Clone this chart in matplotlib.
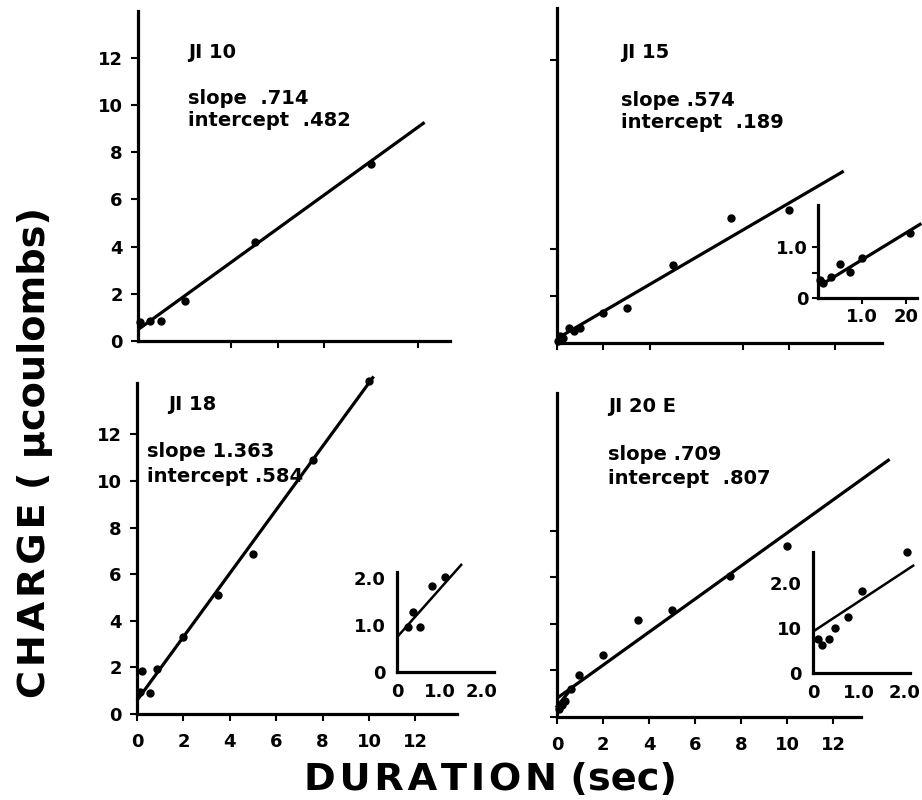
import matplotlib
matplotlib.use("Agg")
import matplotlib.pyplot as plt
import numpy as np

plt.rcParams['font.family'] = ['DejaVu Sans']
plt.rcParams['font.weight'] = 'bold'

W, H = 922, 800

# ---------------- data ----------------
# JI 10
p1_x = [0.1, 0.5, 1.0, 2.0, 5.0, 10.0]
p1_y = [0.8, 0.85, 0.85, 1.7, 4.2, 7.5]
p1_slope, p1_icpt, p1_xend = 0.714, 0.482, 12.3

# JI 15
p2_x = [0.05, 0.15, 0.25, 0.5, 0.75, 1.0, 2.0, 3.0, 5.0, 7.5, 10.0]
p2_y = [0.1, 0.3, 0.2, 0.62, 0.5, 0.62, 1.26, 1.5, 3.3, 5.3, 5.65]
p2_slope, p2_icpt, p2_xend = 0.574, 0.189, 12.36
p2i_x = [0.05, 0.12, 0.3, 0.5, 0.73, 1.0, 2.09]
p2i_y = [0.35, 0.3, 0.42, 0.68, 0.51, 0.79, 1.28]
p2i_line_x = [0.05, 2.35]
p2i_line_y = [0.25, 1.47]

# JI 18
p3_x = [0.13, 0.2, 0.56, 0.85, 2.0, 3.5, 5.0, 7.6, 10.0]
p3_y = [0.93, 1.86, 0.89, 1.95, 3.3, 5.1, 6.85, 10.9, 14.3]
p3_slope, p3_icpt, p3_xend = 1.363, 0.584, 10.2
p3i_x = [0.27, 0.38, 0.54, 0.83, 1.13]
p3i_y = [0.96, 1.28, 0.96, 1.82, 2.02]
p3i_line_x = [0.0, 1.53]
p3i_line_y = [0.74, 2.3]

# JI 20 E
p4_x = [0.1, 0.2, 0.35, 0.6, 0.95, 2.0, 3.5, 5.0, 7.5, 10.0]
p4_y = [0.35, 0.5, 0.7, 1.2, 1.8, 2.65, 4.15, 4.6, 6.05, 7.35]
p4_slope, p4_icpt, p4_xend = 0.709, 0.807, 14.46
p4_aux_x = [0.0, 0.65]
p4_aux_y = [0.45, 1.25]
p4i_x = [0.1, 0.2, 0.35, 0.48, 0.77, 1.06, 2.04]
p4i_y = [0.76, 0.63, 0.76, 1.0, 1.24, 1.83, 2.69]
p4i_line_x = [0.0, 2.2]
p4i_line_y = [0.92, 2.4]

main_ticks = [0, 2, 4, 6, 8, 10, 12]
main_labels = ['0', '2', '4', '6', '8', '10', '12']

fig = plt.figure(figsize=(9.22, 8), dpi=100)

LW = 2.3


def px_axes(ox, oy, sx, sy, xmax, ymax):
    ax = fig.add_axes([ox / W, 1 - oy / H, sx * xmax / W, sy * ymax / H])
    ax.set_xlim(0, xmax)
    ax.set_ylim(0, ymax)
    ax.patch.set_alpha(0)
    for s in ['top', 'right']:
        ax.spines[s].set_visible(False)
    for s in ['left', 'bottom']:
        ax.spines[s].set_linewidth(LW)
    ax.tick_params(width=1.5, length=5, labelsize=13, pad=6)
    return ax


def draw(ax, x, y, lx, ly, lw=LW, ms=5):
    ax.plot(lx, ly, color='black', lw=lw, solid_capstyle='butt', clip_on=False)
    ax.plot(x, y, 'o', color='black', ms=ms, clip_on=False)


def fit_line(slope, icpt, xend):
    xs = np.array([0.0, xend])
    return xs, slope * xs + icpt


txt = dict(fontsize=14, fontweight='bold', ha='left', va='center')

# ---- Panel JI 10 ----
ax1 = px_axes(138, 341, 23.3, 23.6, 13.4, 14.0)
ax1.set_yticks(main_ticks[:7])
ax1.set_yticklabels(main_labels[:7])
ax1.set_xticks([4, 6, 8, 12])
ax1.set_xticklabels([])
lx, ly = fit_line(p1_slope, p1_icpt, p1_xend)
draw(ax1, p1_x, p1_y, lx, ly)
fig.text(188 / W, 1 - 52 / H, 'JI 10', **txt)
fig.text(188 / W, 1 - 98 / H, 'slope  .714', **txt)
fig.text(188 / W, 1 - 120 / H, 'intercept  .482', **txt)

# ---- Panel JI 15 ----
ax2 = px_axes(557, 343, 23.2, 23.6, 14.0, 14.2)
ax2.set_yticks([2, 4, 12])
ax2.set_yticklabels([])
ax2.set_xticks([0, 2, 4, 8, 10, 12])
ax2.set_xticklabels([])
lx, ly = fit_line(p2_slope, p2_icpt, p2_xend)
draw(ax2, p2_x, p2_y, lx, ly)
fig.text(621 / W, 1 - 53 / H, 'JI 15', **txt)
fig.text(621 / W, 1 - 100 / H, 'slope .574', **txt)
fig.text(621 / W, 1 - 123 / H, 'intercept  .189', **txt)

ax2i = px_axes(818, 298, 44, 50.7, 2.25, 1.83)
ax2i.set_yticks([0, 0.5, 1.0])
ax2i.set_yticklabels(['0', '', '1.0'])
ax2i.set_xticks([1.0, 2.0])
ax2i.set_xticklabels(['1.0', '20'])
ax2i.tick_params(length=4, pad=3)
draw(ax2i, p2i_x, p2i_y, p2i_line_x, p2i_line_y)

# ---- Panel JI 18 ----
ax3 = px_axes(137, 714, 23.2, 23.3, 13.8, 14.2)
ax3.set_yticks(main_ticks)
ax3.set_yticklabels(main_labels)
ax3.set_xticks(main_ticks)
ax3.set_xticklabels(main_labels)
ax3.tick_params(axis='x', pad=9)
lx, ly = fit_line(p3_slope, p3_icpt, p3_xend)
draw(ax3, p3_x, p3_y, lx, ly)
fig.text(168 / W, 1 - 404 / H, 'JI 18', **txt)
fig.text(147 / W, 1 - 452 / H, 'slope 1.363', **txt)
fig.text(147 / W, 1 - 477 / H, 'intercept .584', **txt)

ax3i = px_axes(397, 672, 42.5, 47, 2.28, 2.13)
ax3i.set_yticks([0, 1, 2])
ax3i.set_yticklabels(['0', '1.0', '2.0'])
ax3i.set_xticks([0, 1, 2])
ax3i.set_xticklabels(['0', '1.0', '2.0'])
ax3i.tick_params(length=0, pad=8)
draw(ax3i, p3i_x, p3i_y, p3i_line_x, p3i_line_y, lw=1.8)

# ---- Panel JI 20 E ----
ax4 = px_axes(557, 717, 23.0, 23.3, 13.2, 13.9)
ax4.set_yticks([0, 2, 4, 6, 8])
ax4.set_yticklabels([])
ax4.set_xticks(main_ticks)
ax4.set_xticklabels(main_labels)
ax4.tick_params(axis='x', pad=9)
lx, ly = fit_line(p4_slope, p4_icpt, p4_xend)
draw(ax4, p4_x, p4_y, lx, ly)
ax4.plot(p4_aux_x, p4_aux_y, color='black', lw=LW, clip_on=False)
fig.text(608 / W, 1 - 407 / H, 'JI 20 E', **txt)
fig.text(608 / W, 1 - 455 / H, 'slope .709', **txt)
fig.text(608 / W, 1 - 478 / H, 'intercept  .807', **txt)

ax4i = px_axes(813, 673, 46, 45, 2.1, 2.7)
ax4i.set_yticks([0, 1, 2])
ax4i.set_yticklabels(['0', '10', '2.0'])
ax4i.set_xticks([0, 1, 2])
ax4i.set_xticklabels(['0', '1.0', '2.0'])
ax4i.tick_params(length=0, pad=8)
draw(ax4i, p4i_x, p4i_y, p4i_line_x, p4i_line_y, lw=1.8)

# ---- axis titles ----
hs = '\u200a'
ylab = hs.join('CHARGE') + ' ( \u03bccoulombs)'
xlab = hs.join('DURATION') + ' (sec)'
fig.text(35 / W, 1 - 453 / H, ylab, rotation=90,
         fontsize=27.5, fontweight='bold', ha='center', va='center')
fig.text(490 / W, 1 - 780 / H, xlab,
         fontsize=27.5, fontweight='bold', ha='center', va='center')

fig.savefig('out.png', dpi=100)
